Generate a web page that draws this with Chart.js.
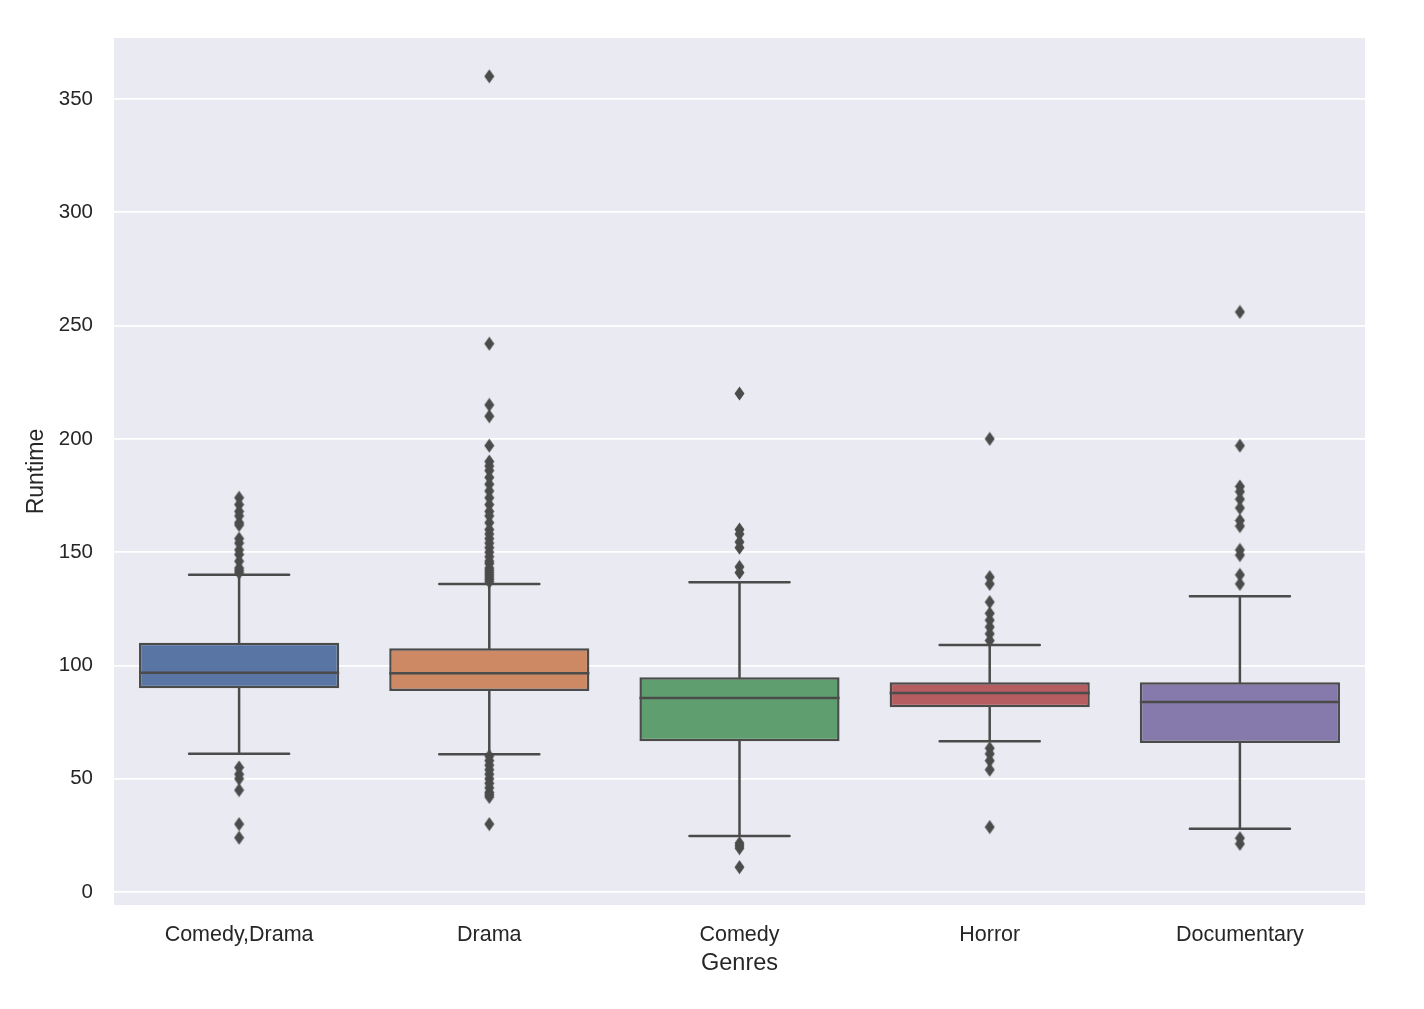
<!DOCTYPE html>
<html>
<head>
<meta charset="utf-8">
<script src="https://cdn.jsdelivr.net/npm/chart.js@4.4.0/dist/chart.umd.min.js"></script>
<style>
  body { margin: 0; background: #fff; }
  #wrap { width: 1424px; height: 1009px; }
</style>
</head>
<body>
<div id="wrap"><canvas id="myChart"></canvas></div>
<script>
// categories
const genres = ['Comedy,Drama', 'Drama', 'Comedy', 'Horror', 'Documentary'];

// box stats
const q1 = [90, 88.7, 66.6, 81.6, 65.8];
const q3 = [110, 107.6, 94.8, 92.6, 92.6];
const medians = [96.8, 96.6, 85.6, 87.8, 83.9];
const whiskerLow = [61, 60.8, 24.7, 66.6, 28];
const whiskerHigh = [140, 136, 136.7, 109, 130.6];

// outliers (fliers)
const fliersComedyDrama = [174, 171, 168, 166, 163, 162, 156, 154, 151, 149, 146, 143, 142, 141, 55, 52, 50, 45, 30, 24];
const fliersDrama = [360, 242, 215, 210, 197, 190, 188, 186, 183, 180, 177, 174, 171, 168, 166, 163, 160, 158, 156, 154, 152, 150, 148, 146, 145, 143, 142, 141, 140, 139, 138, 137,
  60, 58, 56, 54, 52, 50, 48, 46, 44, 43, 42, 30];
const fliersComedy = [220, 160, 158, 154.5, 152, 143.5, 141, 21.6, 20.5, 19.4, 11];
const fliersHorror = [200, 139, 136, 128, 123, 120, 117, 114, 111, 63.5, 61, 58, 54, 28.7];
const fliersDocumentary = [256, 197, 179, 176.7, 173.4, 169.5, 164, 161.5, 151, 148.7, 140, 136, 23.8, 21.3];

const yTicks = [0, 50, 100, 150, 200, 250, 300, 350];

const boxColors = ['#5875a4', '#cc8963', '#5f9e6e', '#b55d60', '#857aab'];
const lineColor = '#4b4b4b';
const textColor = '#262626';
const FONT = '"Liberation Sans", Arial, sans-serif';

const allFliers = [fliersComedyDrama, fliersDrama, fliersComedy, fliersHorror, fliersDocumentary];
const flierPoints = [];
allFliers.forEach((arr, i) => arr.forEach(v => flierPoints.push({ x: genres[i], y: v })));

// thin diamond marker like matplotlib 'd'
const diamond = document.createElement('canvas');
diamond.width = 11; diamond.height = 15;
(() => {
  const c = diamond.getContext('2d');
  c.fillStyle = lineColor;
  c.beginPath();
  c.moveTo(5.5, 0.5); c.lineTo(10.5, 7.5); c.lineTo(5.5, 14.5); c.lineTo(0.5, 7.5);
  c.closePath(); c.fill();
})();

// background + whiskers + medians
const boxPlugin = {
  id: 'boxPlugin',
  beforeDraw(chart) {
    const { ctx, chartArea: a } = chart;
    ctx.save();
    ctx.fillStyle = '#eaeaf2';
    ctx.fillRect(a.left, a.top, a.right - a.left, a.bottom - a.top);
    ctx.restore();
  },
  beforeDatasetsDraw(chart) {
    const ctx = chart.ctx;
    const y = chart.scales.y;
    const meta = chart.getDatasetMeta(0);
    ctx.save();
    ctx.strokeStyle = lineColor;
    ctx.lineWidth = 2.5;
    ctx.lineCap = 'round';
    meta.data.forEach((bar, i) => {
      const x = bar.x;
      const half = bar.width / 4;
      const yLo = y.getPixelForValue(whiskerLow[i]);
      const yHi = y.getPixelForValue(whiskerHigh[i]);
      ctx.beginPath();
      ctx.moveTo(x, y.getPixelForValue(q1[i])); ctx.lineTo(x, yLo);
      ctx.moveTo(x, y.getPixelForValue(q3[i])); ctx.lineTo(x, yHi);
      ctx.moveTo(x - half, yLo); ctx.lineTo(x + half, yLo);
      ctx.moveTo(x - half, yHi); ctx.lineTo(x + half, yHi);
      ctx.stroke();
    });
    ctx.restore();
  },
  afterDatasetsDraw(chart) {
    const ctx = chart.ctx;
    const y = chart.scales.y;
    const meta = chart.getDatasetMeta(0);
    ctx.save();
    ctx.strokeStyle = lineColor;
    ctx.lineWidth = 2.5;
    meta.data.forEach((bar, i) => {
      const ym = y.getPixelForValue(medians[i]);
      ctx.beginPath();
      ctx.moveTo(bar.x - bar.width / 2, ym);
      ctx.lineTo(bar.x + bar.width / 2, ym);
      ctx.stroke();
    });
    ctx.restore();
  }
};

const ctx = document.getElementById('myChart');
const config = {
  type: 'bar',
  data: {
    labels: genres,
    datasets: [{
      label: 'box',
      data: genres.map((g, i) => [q1[i], q3[i]]),
      backgroundColor: boxColors,
      borderColor: lineColor,
      borderWidth: 2.5,
      borderSkipped: false,
      barPercentage: 0.8,
      categoryPercentage: 1.0,
      order: 2
    }, {
      type: 'scatter',
      label: 'fliers',
      data: flierPoints,
      pointStyle: diamond,
      pointRadius: 7,
      order: 1
    }]
  },
  options: {
    responsive: true,
    maintainAspectRatio: false,
    animation: false,
    layout: { padding: { top: 38, right: 59, left: 0, bottom: 0 } },
    plugins: { legend: { display: false }, tooltip: { enabled: false } },
    scales: {
      x: {
        type: 'category',
        grid: { display: false, drawTicks: false },
        border: { display: false },
        ticks: { color: textColor, font: { family: FONT, size: 21.5 }, padding: 17 },
        title: { display: true, text: 'Genres', color: textColor, font: { family: FONT, size: 23.5 }, padding: { top: 0, bottom: 31 } },
        afterFit(scale) { scale.height = 104; }
      },
      y: {
        min: -5.7,
        max: 376.9,
        grid: { color: '#ffffff', lineWidth: 1.8, drawTicks: false },
        border: { display: false },
        ticks: { color: textColor, font: { family: FONT, size: 20.5 }, padding: 21 },
        afterBuildTicks(scale) { scale.ticks = yTicks.map(v => ({ value: v })); },
        title: { display: true, text: 'Runtime', color: textColor, font: { family: FONT, size: 23 }, padding: { top: 23, bottom: 0 } },
        afterFit(scale) { scale.width = 114; }
      }
    }
  },
  plugins: [boxPlugin]
};
const chart = new Chart(ctx, config);
</script>
</body>
</html>
